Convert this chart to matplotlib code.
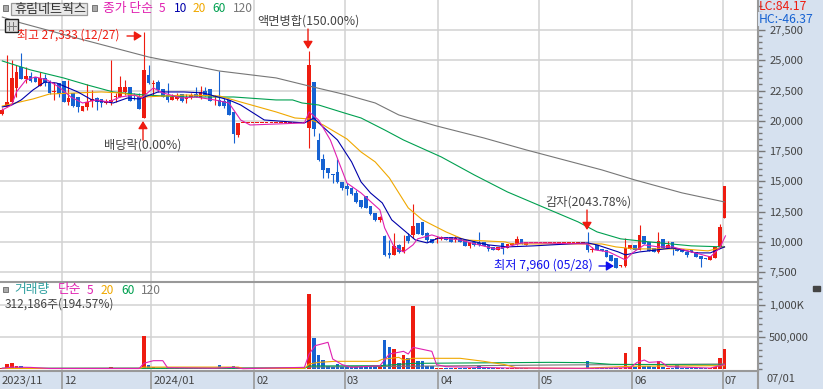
import numpy as np
import matplotlib
matplotlib.use('Agg')
import matplotlib.pyplot as plt

plt.rcParams['font.family'] = ['Noto Sans CJK KR', 'DejaVu Sans']

W, H = 823, 389
RED = '#EE1C10'
BLUE = '#1662D2'
GRID = '#D2D2D2'
EDGE = '#999999'
PANEL = '#D6E1EF'
TEXT = '#444444'
C5, C10, C20, C60, C120 = '#E020B0', '#0000AA', '#F0A800', '#00A050', '#777777'

opens = [20535, 21115, 21580, 22680, 24470, 23455, 23700, 23590, 22875, 23510,
         23095, 22380, 23095, 23290, 21580, 22270, 21940, 20840, 21170, 21665,
         21855, 21775, 21500, 21580, 21940, 21995, 22405, 22765, 22130, 21995,
         20260, 23780, 23040, 23235, 22600, 22130, 21720, 21775, 22185, 21775,
         21995, 22185, 21855, 22490, 22600, 21940, 21720, 21635, 21720, 20700,
         18830] + [19800] * 14 + [
         19405, 23205, 18415, 16845, 16100, 15605, 15770, 14945, 14615, 14450,
         14035, 13460, 13790, 12960, 12385, 11805, 10485, 9080, 8915, 9740,
         9160, 10485, 10565, 11560, 11640, 10735, 10235, 10235, 10235, 10400,
         10400, 10235, 10235, 10150, 9660, 9990, 9905, 9990, 9740, 9575,
         9330, 9905, 9495, 9740, 9825, 10235, 9740] + [9900] * 12 + [
         9905, 9330, 9740, 9410, 9330, 8915, 8670, 7990, 7990, 9410,
         9740, 9330, 10485, 9990, 9495, 9160, 10235, 9495, 9990, 9495,
         9410, 9160, 9330, 9160, 8830, 8670, 8500, 8670, 9575, 11970]
closes = [20890, 21580, 23510, 24060, 23455, 23700, 23290, 23235, 23510, 23150,
          22270, 22490, 22215, 21580, 21910, 21225, 21170, 21225, 21555, 21775,
          21580, 21500, 21665, 21720, 22050, 22765, 22765, 21665, 22050, 20975,
          24195, 23095, 23150, 22545, 21995, 21720, 21995, 21995, 21665, 21940,
          22130, 21995, 22405, 22130, 21665, 22050, 21225, 21225, 20480, 18880,
          19790] + [19800] * 14 + [
          24610, 19320, 16760, 15935, 15690, 15525, 14945, 14450, 14365, 13955,
          13290, 12880, 12800, 12300, 11805, 12055, 8915, 8915, 9660, 9160,
          9575, 10070, 11310, 10650, 10565, 10150, 9905, 10320, 10400, 10150,
          9990, 10320, 9990, 9660, 9990, 9740, 9740, 9660, 9410, 9330,
          9575, 9410, 9825, 9905, 10235, 9825, 9990] + [9900] * 12 + [
          9330, 9410, 9330, 9245, 8750, 8420, 7840, 8090, 9495, 9740,
          9330, 10565, 9825, 9245, 9160, 10070, 9495, 9740, 9410, 9245,
          9160, 8915, 9160, 8750, 8585, 8585, 8830, 9575, 11225, 14615]
highs = [21030, 25435, 25020, 24610, 25630, 24470, 24060, 23590, 24060, 23865,
         23370, 23235, 23150, 23290, 23370, 22270, 21940, 21225, 23040, 22545,
         21995, 21775, 21775, 25020, 22270, 23700, 23370, 22765, 22270, 22270,
         27330, 24610, 23370, 23370, 22600, 23095, 22215, 22270, 22185, 22185,
         22270, 22765, 22875, 22765, 22600, 22130, 24140, 21855, 21720, 20700,
         19790] + [19800] * 14 + [
         25765, 23205, 18990, 17260, 16100, 15605, 16845, 14945, 14860, 14530,
         14285, 13460, 13790, 12960, 12385, 12135, 10565, 10150, 10735, 9825,
         10565, 10735, 13130, 11560, 11640, 10815, 10235, 10485, 10485, 10400,
         10400, 10485, 10235, 10150, 9990, 10150, 10815, 9990, 9740, 9575,
         9575, 9905, 9825, 9905, 10485, 10235, 9990] + [9900] * 12 + [
         10815, 9575, 9740, 9410, 9330, 8915, 8670, 8090, 10320, 9740,
         9740, 11390, 10485, 9990, 9495, 10815, 10235, 10070, 9990, 9495,
         9410, 9160, 9330, 9160, 8830, 8670, 8830, 9575, 11475, 14615]
lows = [20480, 21115, 21390, 21995, 23455, 23095, 23235, 23235, 22875, 22875,
        22215, 21720, 21995, 21580, 21305, 21170, 20755, 20840, 20890, 21170,
        20890, 21170, 21390, 21305, 21580, 21940, 22130, 21665, 21720, 20975,
        20260, 23040, 22130, 22405, 21995, 21580, 21720, 21720, 21580, 21500,
        21775, 21940, 21800, 22050, 21665, 21305, 21225, 21030, 20480, 18140,
        18690] + [19800] * 14 + [
        17750, 18745, 16680, 15275, 15275, 14860, 14860, 14285, 13870, 13870,
        13210, 12800, 12800, 12220, 11725, 11640, 8830, 8670, 8915, 9080,
        9080, 9905, 10320, 10650, 10565, 9990, 9905, 9905, 10150, 10150,
        9990, 9990, 9990, 9660, 9495, 9660, 9660, 9660, 9245, 9330,
        9330, 8995, 9495, 9740, 9740, 9825, 9740] + [9900] * 12 + [
        9160, 9160, 9330, 9245, 8750, 8420, 7840, 7925, 7925, 9410,
        9330, 9330, 9825, 9245, 9160, 9080, 9495, 9495, 8915, 9245,
        9160, 8750, 9160, 8750, 7925, 8585, 8500, 8670, 9575, 11970]
volumes = [16000, 78000, 99000, 40000, 40000, 16000, 16000, 10000, 10000, 10000,
           5000, 5000, 5000, 5000, 5000, 5000, 5000, 5000, 5000, 5000,
           5000, 5000, 5000, 36000, 8000, 8000, 8000, 8000, 8000, 8000,
           520000, 68000, 26000, 15000, 15000, 15000, 15000, 15000, 15000, 15000,
           15000, 15000, 15000, 15000, 15000, 15000, 68000, 15000, 15000, 47000,
           26000] + [3000] * 14 + [
           1172000, 484000, 219000, 140000, 47000, 36000, 78000, 36000, 36000, 36000,
           36000, 36000, 36000, 36000, 36000, 36000, 453000, 344000, 312000, 88000,
           219000, 172000, 984000, 120000, 125000, 52000, 42000, 20000, 20000, 20000,
           20000, 20000, 20000, 20000, 20000, 20000, 47000, 16000, 16000, 16000,
           16000, 16000, 16000, 16000, 16000, 16000, 16000] + [3000] * 12 + [
           120000, 20000, 20000, 20000, 20000, 20000, 20000, 20000, 250000, 36000,
           36000, 344000, 52000, 47000, 26000, 120000, 36000, 16000, 20000, 57000,
           20000, 20000, 20000, 20000, 20000, 20000, 20000, 26000, 172000, 312186]

# moving averages at the bends
ma5_x = [0, 2, 3, 5, 7, 9.5, 12, 14.5, 17, 20, 22.5, 25, 28, 29.5, 32, 34, 38, 41, 45,
         48, 50.5, 52.5, 64, 65, 67, 69.5, 73, 76, 80, 81, 83, 85, 87, 88, 91, 93,
         97, 101, 104.5, 107, 110, 113.5, 124, 125.5, 128.5, 132, 133.5, 136, 139, 142,
         146, 150, 152, 153.2]
ma5_y = [20890, 21305, 22380, 23370, 23620, 23370, 22790, 21965, 21470, 21720, 21550, 21965,
         22130, 21880, 22710, 22300, 21880, 21965, 21720, 21470, 20065, 19650, 19820, 20730,
         20065, 18410, 14860, 14035, 12630, 11145, 9575, 9160, 9740, 10240, 10565, 10320,
         10150, 9740, 9410, 9575, 9905, 9905, 9820, 9330, 9160, 8500, 9080, 9740, 9575, 9575,
         9160, 8750, 9490, 10485]
ma10_x = [0, 2, 4, 6.5, 9, 11.5, 16, 19, 23.5, 26.5, 29, 33, 38.5, 42.5, 48, 50.5, 55.5, 64,
          66, 67.5, 71, 74, 76, 78, 80.5, 82.5, 85.5, 87.5, 90, 92.5, 96.5, 103, 107, 112.5,
          124, 126, 130.5, 132, 135, 137, 142, 147, 150, 153]
ma10_y = [21140, 21305, 21720, 22545, 23205, 23120, 22380, 21720, 21470, 21880, 21800, 22380,
          22380, 22300, 21720, 21305, 20065, 19820, 20230, 19650, 18410, 16600, 14945, 14035,
          13210, 11810, 10815, 10150, 9905, 10320, 10320, 9740, 9575, 9660, 9905, 9740, 9160,
          8915, 9160, 9245, 9490, 9080, 9080, 9575]
ma20_x = [0, 6.5, 10, 21, 25, 30, 39, 46, 50.5, 58, 62, 65, 68, 73, 76, 79, 82, 86, 89, 94,
          98, 106.5, 108, 116, 127, 130, 134, 144, 149.5, 153]
ma20_y = [21220, 21800, 22210, 22380, 22300, 21965, 22130, 22050, 21550, 20730, 20230, 20150,
          19650, 18500, 17420, 16600, 15275, 12800, 11810, 10815, 10150, 9990, 9820, 9820,
          9820, 9575, 9410, 9410, 9245, 9575]
ma60_x = [0, 6, 13, 18, 23.5, 30, 39, 49, 58, 61.5, 63.5, 67, 72.5, 76, 81, 85, 93, 100, 107,
          116, 122, 126, 131, 137, 146, 153]
ma60_y = [24940, 24200, 23535, 22960, 22380, 22130, 21965, 21965, 21720, 21720, 21470, 21305,
          20640, 20230, 19240, 18410, 17010, 15520, 14120, 12630, 11640, 10815, 10240, 9990,
          9660, 9575]
ma120_x = [0, 4, 16.5, 31, 46, 58, 65, 73, 79, 84, 92, 102, 111, 127, 134, 144, 153]
ma120_y = [28570, 28080, 26760, 25270, 24110, 23540, 22870, 22130, 21470, 20480, 19570, 18580,
           17590, 15940, 15110, 14040, 13290]

vma5_x = [0, 2, 6, 10, 29, 30, 31, 32, 34, 35, 45, 46, 49, 51, 64, 65, 66.3, 69, 70, 72, 74, 80,
          82, 85, 86, 87, 91, 92, 94, 107, 124, 133, 134.5, 136, 137, 139.5, 141, 150, 153]
vma5_y = [10000, 30000, 25000, 8000, 8000, 90000, 110000, 130000, 130000, 20000, 12000, 15000,
          25000, 5000, 26000, 234000, 365000, 417000, 156000, 68000, 26000, 52000, 234000,
          276000, 234000, 339000, 276000, 68000, 36000, 16000, 10000, 20000, 104000, 140000,
          104000, 115000, 36000, 15000, 70000]
vma20_x = [0, 29, 30, 50, 51, 64, 65, 67, 70.5, 79.5, 80.5, 84, 85, 87, 97, 102, 106.5, 109, 123,
           124, 133, 153]
vma20_y = [8000, 8000, 30000, 30000, 8000, 10000, 78000, 104000, 120000, 120000, 151000, 182000,
           140000, 167000, 167000, 120000, 68000, 16000, 10000, 15000, 42000, 52000]
vma60_x = [0, 64, 65, 80, 87, 116, 124, 129, 153]
vma60_y = [10000, 10000, 47000, 52000, 88000, 104000, 99000, 73000, 62000]
vma120_x = [0, 64, 65, 116, 153]
vma120_y = [10000, 20000, 31000, 62000, 78000]

price_ticks = [7500, 10000, 12500, 15000, 17500, 20000, 22500, 25000, 27500]
price_labels = ['7,500', '10,000', '12,500', '15,000', '17,500', '20,000', '22,500', '25,000', '27,500']
vol_ticks = [500000, 1000000]
vol_labels = ['500,000', '1,000K']
month_pos = [12.6, 31.6, 53.4, 72.5, 92.4, 113.6, 133.5, 152.6]
month_labels = ['12', '2024/01', '02', '03', '04', '05', '06', '07']

idx = np.arange(len(opens))
o, c, hi, lo, vol = map(np.array, (opens, closes, highs, lows, volumes))
colors = np.where(c >= o, RED, BLUE)


def rect(x0, y0, x1, y1):
    return [x0 / W, 1 - y1 / H, (x1 - x0) / W, (y1 - y0) / H]


fig = plt.figure(figsize=(W / 100, H / 100), dpi=100, facecolor=PANEL)
ax1 = fig.add_axes(rect(0, 0, 758, 281))
ax2 = fig.add_axes(rect(0, 282, 758, 371), sharex=ax1)
ax3 = fig.add_axes(rect(0, 371, 758, 389), sharex=ax1, facecolor=PANEL)

xlim = (-0.49, 160.1)
ax1.set_xlim(xlim)
ax1.set_ylim(6757, 29980)
ax2.set_ylim(-31250, 1359375)
ax3.set_ylim(0, 1)

for ax in (ax1, ax2):
    ax.set_axisbelow(True)
    ax.grid(True, color=GRID, lw=1.1)
    ax.set_xticks(month_pos)
    ax.tick_params(axis='x', length=0, labelbottom=False)
    ax.yaxis.tick_right()
    ax.tick_params(axis='y', which='major', length=5, width=1, color='#777777',
                   labelsize=8, labelcolor=TEXT, pad=3)
    ax.tick_params(axis='y', which='minor', length=3, width=1, color='#777777')
    for side in ('top', 'left', 'bottom'):
        ax.spines[side].set_visible(False)
    ax.spines['right'].set_color(EDGE)
    ax.spines['right'].set_linewidth(1.5)

ax1.set_yticks(price_ticks, price_labels)
ax1.set_yticks(np.arange(7000, 29501, 500), minor=True)
ax2.set_yticks(vol_ticks, vol_labels)
ax2.set_yticks(np.arange(0, 1300001, 100000), minor=True)
ax2.spines['top'].set_visible(True)
ax2.spines['top'].set_color(EDGE)
ax2.spines['top'].set_linewidth(1.5)

# candles
ax1.vlines(idx, lo, hi, colors=colors, lw=0.8, zorder=3)
body = np.maximum(np.abs(c - o), 85)
ax1.bar(idx, body, bottom=np.minimum(o, c), width=0.78, color=colors, lw=0, zorder=3)

for xs, ys, col in [(ma120_x, ma120_y, C120), (ma60_x, ma60_y, C60), (ma20_x, ma20_y, C20),
                    (ma10_x, ma10_y, C10), (ma5_x, ma5_y, C5)]:
    ax1.plot(xs, ys, color=col, lw=0.8, zorder=4)

# volume
ax2.bar(idx, vol, width=0.78, color=colors, lw=0, zorder=3)
for xs, ys, col in [(vma120_x, vma120_y, C120), (vma60_x, vma60_y, C60),
                    (vma20_x, vma20_y, C20), (vma5_x, vma5_y, C5)]:
    ax2.plot(xs, ys, color=col, lw=0.8, zorder=4)

# date bar
ax3.axis('off')
ax3.vlines(month_pos, 0, 1, colors=EDGE, lw=1.2)
for pos, label_text in zip(month_pos, month_labels):
    ax3.annotate(label_text, (pos, 0.45), xytext=(2, 0), textcoords='offset pixels',
                 fontsize=8, color=TEXT, va='center', ha='left')
ax3.annotate('2023/11', (xlim[0], 0.45), xytext=(2, 0), textcoords='offset pixels',
             fontsize=8, color=TEXT, va='center', ha='left')

# overlay in pixels for labels and arrows
ov = fig.add_axes([0, 0, 1, 1], facecolor='none')
ov.set_xlim(0, W)
ov.set_ylim(H, 0)
ov.axis('off')


def label(x, y, s, col=TEXT, size=8.6, **kw):
    return ov.text(x, y, s, color=col, fontsize=size, va='center', ha='left', **kw)


def arrow(x0, y0, x1, y1, col):
    ov.annotate('', (x1, y1), (x0, y0),
                arrowprops=dict(arrowstyle='-|>,head_width=0.28,head_length=0.45', color=col, lw=1,
                                shrinkA=0, shrinkB=0))


ov.plot([0, 758], [371, 371], color=EDGE, lw=1.5)
ov.plot([758, 758], [371, 389], color=EDGE, lw=1.5)
label(767, 379, '07/01', size=8)

# header
ov.fill([3, 8, 8, 3], [5, 5, 11, 11], color='#AAAAAA', ec='#777777', lw=0.7)
ov.fill([92, 97, 97, 92], [5, 5, 11, 11], color='#AAAAAA', ec='#777777', lw=0.7)
ov.fill([11, 87, 87, 11], [3, 3, 15, 15], facecolor='#E8E8E8', edgecolor=EDGE, lw=0.9)
label(14, 9, '휴림네트웍스', '#333333', size=9.4)
label(103, 8, '종가 단순', C5, size=9.2)
label(159, 8, '5', C5)
label(174, 8, '10', C10)
label(193, 8, '20', C20)
label(212, 8, '60', C60)
label(233, 8, '120', C120)

# small table icon
ov.fill([5, 18, 18, 5], [19, 19, 32, 32], facecolor='#DDDDDD', edgecolor='#222222', lw=1)
ov.plot([9.5, 9.5], [22, 30], color='#777777', lw=0.7)
ov.plot([13.5, 13.5], [22, 30], color='#777777', lw=0.7)
ov.plot([7, 16], [25.5, 25.5], color='#777777', lw=0.7)

label(17, 35, '최고 27,333 (12/27)', '#EE1C10')
arrow(127, 36, 142, 36, RED)
label(104, 145, '배당락(0.00%)', size=8.8)
arrow(143, 140, 143, 121, RED)
label(257, 21, '액면병합(150.00%)', size=8.8)
arrow(308, 29, 308, 49, RED)
label(545, 202, '감자(2043.78%)', size=8.8)
arrow(587, 210, 587, 230, RED)
label(494, 265, '최저 7,960 (05/28)', '#1010EE', size=8.8)
arrow(599, 266, 614, 266, '#1010EE')

label(759, 6, 'LC:84.17', RED, size=8.8)
label(759, 19, 'HC:-46.37', BLUE, size=8.8, bbox=dict(facecolor=PANEL, edgecolor='none', pad=0.5))

# volume header
ov.fill([3, 8, 8, 3], [287, 287, 292, 292], color='#AAAAAA', ec='#777777', lw=0.7)
label(14, 290, '거래량', '#30A0A0', size=9.2)
label(58, 290, '단순', C5, size=9.2)
label(87, 290, '5', C5)
label(101, 290, '20', C20)
label(121, 290, '60', C60)
label(141, 290, '120', C120)
label(5, 304, '312,186주(194.57%)')

ov.fill([813, 820, 820, 813], [286, 286, 291, 291], color='#444444')

fig.savefig('out.png', dpi=100, facecolor=PANEL)
